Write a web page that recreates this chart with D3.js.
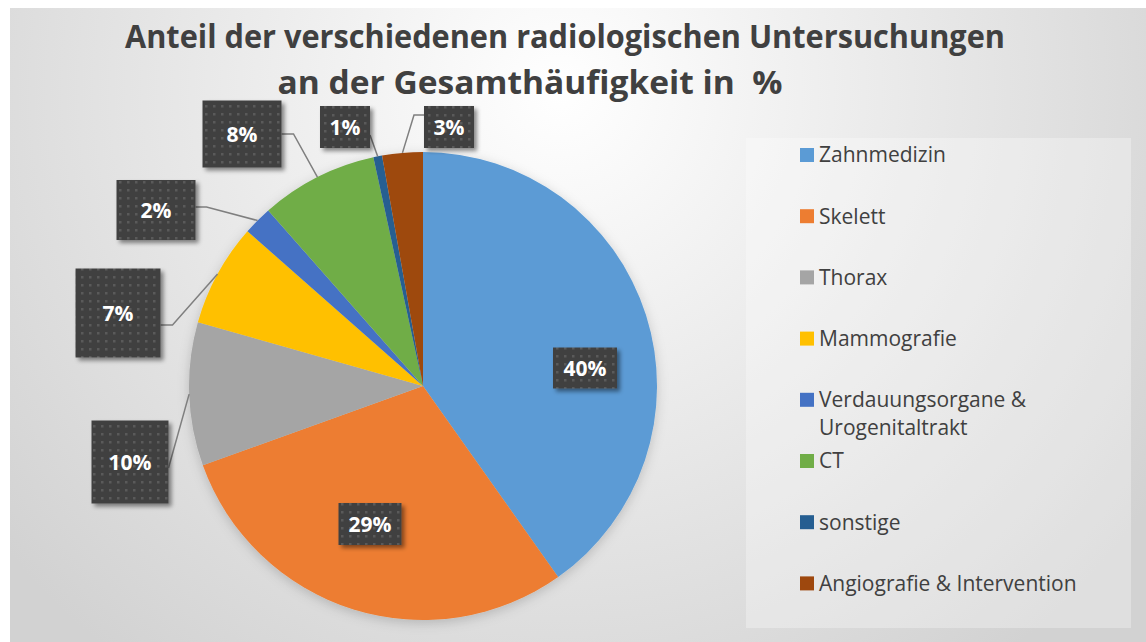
<!DOCTYPE html>
<html>
<head>
<meta charset="utf-8">
<script src="https://cdn.jsdelivr.net/npm/d3@7"></script>
<style>
  body { margin: 0; background: #fff; }
  svg text { font-family: "Open Sans", "DejaVu Sans", sans-serif; }
</style>
</head>
<body>
<div id="chart"></div>
<script>
// data
var categories = ["Zahnmedizin", "Skelett", "Thorax", "Mammografie",
  "Verdauungsorgane & Urogenitaltrakt", "CT", "sonstige", "Angiografie & Intervention"];
var legendLines = [["Zahnmedizin"], ["Skelett"], ["Thorax"], ["Mammografie"],
  ["Verdauungsorgane &", "Urogenitaltrakt"], ["CT"], ["sonstige"], ["Angiografie & Intervention"]];
var values = [40.2, 29.3, 9.9, 7.1, 2.0, 8.1, 0.6, 2.8];
var titleLines = ["Anteil der verschiedenen radiologischen Untersuchungen",
  "an der Gesamthäufigkeit in  %"];

// styles
var colors = ["#5B9BD5", "#ED7D31", "#A5A5A5", "#FFC000", "#4472C4", "#70AD47", "#255E91", "#9E480E"];

// label boxes were moved by hand in the original, offsets from pie center
var labelLayout = [
  { dx: 162, dy: -18, w: 64, h: 41 },
  { dx: -53, dy: 138, w: 63, h: 42 },
  { dx: -293, dy: 76, w: 77, h: 83, side: "right", ly: 6, stub: 0 },
  { dx: -305, dy: -73, w: 85, h: 89, side: "right", ly: 12, stub: 12 },
  { dx: -267, dy: -176, w: 79, h: 60, side: "right", ly: -3, stub: 11 },
  { dx: -181, dy: -252, w: 79, h: 67, side: "right", ly: 0, stub: 12 },
  { dx: -78, dy: -259, w: 50, h: 42, side: "right", ly: 8, stub: 0 },
  { dx: 26, dy: -259, w: 50, h: 42, side: "left", ly: -12, stub: 10 }
];

var svgWidth = 1146, svgHeight = 642;
var cx = 423, cy = 386, radius = 234;

var svg = d3.select("#chart").append("svg")
  .attr("width", svgWidth)
  .attr("height", svgHeight);

var defs = svg.append("defs");

var bg = defs.append("radialGradient")
  .attr("id", "bg")
  .attr("gradientUnits", "userSpaceOnUse")
  .attr("cx", 560).attr("cy", 90).attr("r", 720);
bg.append("stop").attr("offset", "0%").attr("stop-color", "#ffffff");
bg.append("stop").attr("offset", "100%").attr("stop-color", "#d2d2d2");

var pat = defs.append("pattern")
  .attr("id", "dots")
  .attr("patternUnits", "userSpaceOnUse")
  .attr("width", 8).attr("height", 8);
pat.append("rect").attr("width", 8).attr("height", 8).attr("fill", "#404040");
pat.append("rect").attr("x", 3).attr("y", 3).attr("width", 2.5).attr("height", 2.5).attr("fill", "#5a5a5a");

var sh = defs.append("filter").attr("id", "shadow")
  .attr("x", "-20%").attr("y", "-20%").attr("width", "150%").attr("height", "150%");
sh.append("feDropShadow").attr("dx", 3).attr("dy", 3).attr("stdDeviation", 2)
  .attr("flood-color", "#000").attr("flood-opacity", 0.45);

var pieShadow = defs.append("filter").attr("id", "pieshadow")
  .attr("x", "-20%").attr("y", "-20%").attr("width", "140%").attr("height", "140%");
pieShadow.append("feDropShadow").attr("dx", 0).attr("dy", 3).attr("stdDeviation", 6)
  .attr("flood-color", "#000").attr("flood-opacity", 0.18);

// chart area
svg.append("rect")
  .attr("x", 10).attr("y", 8)
  .attr("width", svgWidth - 10).attr("height", svgHeight - 8)
  .attr("fill", "url(#bg)");

// title, squeezed a bit so line 1 fits like the original
var titleX = [565, 530];
var title = svg.selectAll(".title")
  .data(titleLines)
  .enter().append("text")
  .attr("class", "title")
  .attr("x", function(d, i) { return titleX[i]; })
  .attr("y", function(d, i) { return 48 + i * 46; })
  .attr("text-anchor", "middle")
  .style("white-space", "pre")
  .attr("font-size", 32)
  .attr("font-weight", "bold")
  .attr("fill", "#404040")
  .text(function(d) { return d; });

var squeeze = 880 / title.node().getComputedTextLength();
title.each(function(d, i) {
  var w = this.getComputedTextLength() * squeeze;
  if (i === 1) w = Math.max(w, 505);
  d3.select(this)
    .attr("textLength", w)
    .attr("lengthAdjust", "spacingAndGlyphs");
});

// pie
var pie = d3.pie().sort(null).value(function(d) { return d; });
var arcs = pie(values);
var total = d3.sum(values);
var arc = d3.arc().innerRadius(0).outerRadius(radius);
var edge = d3.arc().innerRadius(radius).outerRadius(radius);
var pct = d3.format(".0%");

var g = svg.append("g")
  .attr("transform", "translate(" + cx + "," + cy + ")");

g.append("g")
  .attr("filter", "url(#pieshadow)")
  .selectAll("path")
  .data(arcs)
  .enter().append("path")
  .attr("d", arc)
  .attr("fill", function(d, i) { return colors[i]; });

// leader lines
g.selectAll(".leader")
  .data(arcs.filter(function(d, i) { return labelLayout[i].side; }))
  .enter().append("polyline")
  .attr("class", "leader")
  .attr("fill", "none")
  .attr("stroke", "#7f7f7f")
  .attr("stroke-width", 1.5)
  .attr("points", function(d) {
    var L = labelLayout[d.index];
    var sx = L.side === "right" ? L.dx + L.w / 2 : L.dx - L.w / 2;
    var sy = L.dy + L.ly;
    var mx = L.side === "right" ? sx + L.stub : sx - L.stub;
    var p = edge.centroid(d);
    return [[sx, sy], [mx, sy], p].join(" ");
  });

// data labels
var lab = g.selectAll(".lab")
  .data(arcs)
  .enter().append("g")
  .attr("class", "lab")
  .attr("transform", function(d) {
    var L = labelLayout[d.index];
    return "translate(" + L.dx + "," + L.dy + ")";
  });

lab.append("rect")
  .attr("x", function(d) { return -labelLayout[d.index].w / 2; })
  .attr("y", function(d) { return -labelLayout[d.index].h / 2; })
  .attr("width", function(d) { return labelLayout[d.index].w; })
  .attr("height", function(d) { return labelLayout[d.index].h; })
  .attr("fill", "url(#dots)")
  .attr("filter", "url(#shadow)");

lab.append("text")
  .attr("text-anchor", "middle")
  .attr("dy", "0.36em")
  .attr("font-size", 21)
  .attr("font-weight", "bold")
  .attr("fill", "#ffffff")
  .text(function(d) { return pct(d.value / total); });

// legend
svg.append("rect")
  .attr("x", 746).attr("y", 138)
  .attr("width", 385).attr("height", 490)
  .attr("fill", "#ffffff")
  .attr("fill-opacity", 0.3);

var leg = svg.selectAll(".leg")
  .data(categories)
  .enter().append("g")
  .attr("class", "leg")
  .attr("transform", function(d, i) { return "translate(800," + (155 + i * 61.2) + ")"; });

leg.append("rect")
  .attr("x", 0).attr("y", -7)
  .attr("width", 14).attr("height", 14)
  .attr("fill", function(d, i) { return colors[i]; });

leg.append("text")
  .attr("x", 19)
  .attr("y", 0)
  .attr("font-size", 21)
  .attr("fill", "#404040")
  .selectAll("tspan")
  .data(function(d, i) { return legendLines[i]; })
  .enter().append("tspan")
  .attr("x", 19)
  .attr("dy", function(d, j) { return j === 0 ? "0.35em" : "1.33em"; })
  .text(function(d) { return d; });
</script>
</body>
</html>
